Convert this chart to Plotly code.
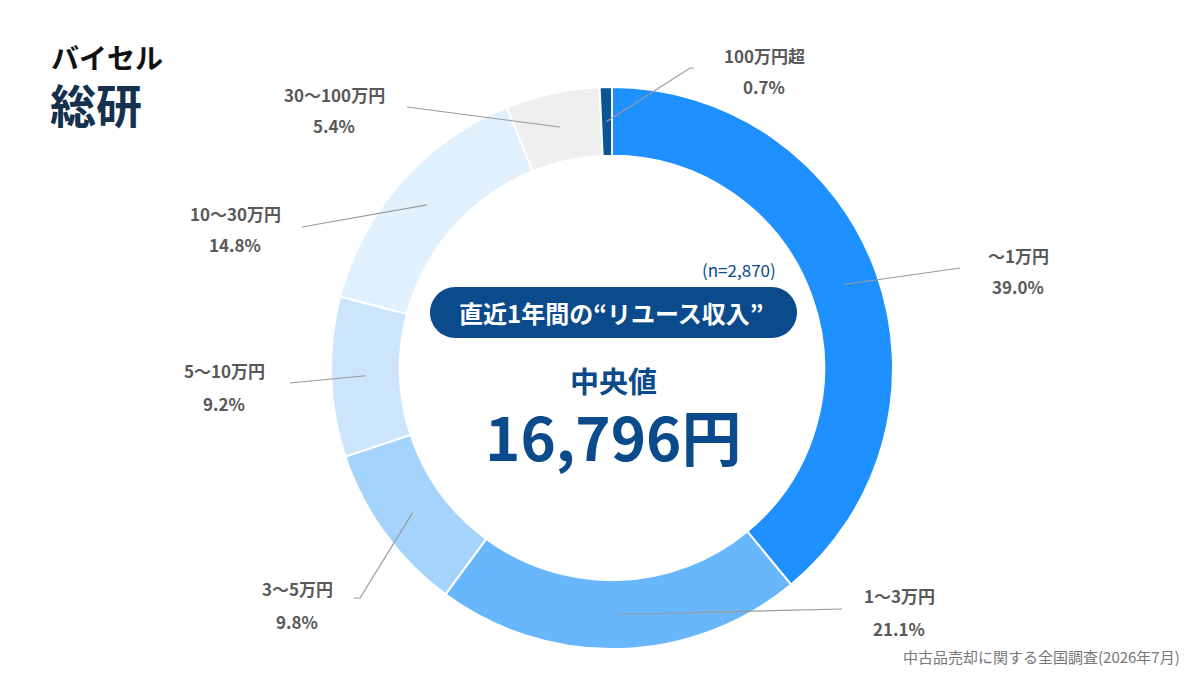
import math
import plotly.graph_objects as go

# ---------------- data ----------------
categories = ["〜1万円", "1〜3万円", "3〜5万円", "5〜10万円", "10〜30万円", "30〜100万円", "100万円超"]
shares = [39.0, 21.1, 9.8, 9.2, 14.8, 5.4, 0.7]
sample_size = "2,870"
median_label = "中央値"
median_value = "16,796円"
center_title = "直近1年間の“リユース収入”"
source_note = "中古品売却に関する全国調査(2026年7月)"

# ---------------- layout constants ----------------
W, H = 1200, 675
CX, CY, R = 612, 368, 281
HOLE = 0.755
R_MID = R * (1 + HOLE) / 2

colors = ["#1E90FF", "#68B6FB", "#A4D3FB", "#CCE5FC", "#E0F0FD", "#EEF0F0", "#0B5597"]
NAVY = "#0B4A8B"
LABEL_GRAY = "#595959"
FONT = "Noto Sans CJK JP"

# label placement: (line end x, line end y, tail x or None, label centre x, name y, pct y)
label_layout = [
    (960, 268, None, 1018, 255, 287),
    (842, 609, None, 899, 595, 628),
    (360, 598, 354, 297, 588, 621),
    (290, 383, None, 224, 370, 403),
    (302, 227, None, 235, 213, 245),
    (407, 107, None, 334, 95, 126),
    (690, 68, 694, 764, 55, 87),
]


def px(x):
    return x / W


def py(y):
    return 1 - y / H


fig = go.Figure(
    go.Pie(
        labels=categories,
        values=shares,
        hole=HOLE,
        sort=False,
        direction="clockwise",
        rotation=0,
        marker=dict(colors=colors, line=dict(color="white", width=2)),
        textinfo="none",
        hoverinfo="label+percent",
        showlegend=False,
        domain=dict(x=[px(CX - R), px(CX + R)], y=[py(CY + R), py(CY - R)]),
    )
)

shapes = []
annotations = []

total = sum(shares)
cum = 0.0
for cat, v, lay in zip(categories, shares, label_layout):
    theta = 2 * math.pi * (cum + v / 2) / total
    cum += v
    ax = CX + R_MID * math.sin(theta)
    ay = CY - R_MID * math.cos(theta)
    ex, ey, tail, lx, ny, pyy = lay
    path = f"M {px(ax)},{py(ay)} L {px(ex)},{py(ey)}"
    if tail is not None:
        path += f" L {px(tail)},{py(ey)}"
    shapes.append(dict(type="path", path=path, xref="paper", yref="paper",
                       line=dict(color="#9A9A9A", width=1.2), layer="above"))
    annotations.append(dict(x=px(lx), y=py(ny), xref="paper", yref="paper",
                            text=f"<b>{cat}</b>", showarrow=False,
                            xanchor="center", yanchor="middle",
                            font=dict(family=FONT, size=17, color=LABEL_GRAY)))
    annotations.append(dict(x=px(lx), y=py(pyy), xref="paper", yref="paper",
                            text=f"<b>{v:.1f}%</b>", showarrow=False,
                            xanchor="center", yanchor="middle",
                            font=dict(family=FONT, size=17, color=LABEL_GRAY)))

# centre pill (rounded rectangle)
x0, x1, y0, y1 = 430, 797, 287, 338
rr = (y1 - y0) / 2
pts = []
for i in range(0, 31):
    a = -math.pi / 2 + math.pi * i / 30
    pts.append((x1 - rr + rr * math.cos(a), (y0 + y1) / 2 + rr * math.sin(a)))
for i in range(0, 31):
    a = math.pi / 2 + math.pi * i / 30
    pts.append((x0 + rr + rr * math.cos(a), (y0 + y1) / 2 + rr * math.sin(a)))
pill = "M " + " L ".join(f"{px(a)},{py(b)}" for a, b in pts) + " Z"
shapes.append(dict(type="path", path=pill, xref="paper", yref="paper",
                   fillcolor=NAVY, line=dict(width=0), layer="above"))

extra = [
    dict(x=px(611), y=py(312), text=f"<b>{center_title}</b>",
         font=dict(family=FONT, size=24, color="white")),
    dict(x=px(778), y=py(269), xanchor="right", text=f"(n={sample_size})",
         font=dict(family=FONT, size=17, color=NAVY)),
    dict(x=px(613), y=py(380), text=f"<b>{median_label}</b>",
         font=dict(family=FONT, size=29, color=NAVY)),
    dict(x=px(613), y=py(434), text=f"<b>{median_value}</b>",
         font=dict(family=FONT, size=60, color=NAVY)),
    dict(x=px(1182), y=py(656), xanchor="right", text=source_note,
         font=dict(family=FONT, size=15, color="#777777")),
    dict(x=px(49), y=py(57), xanchor="left", text="<b>バイセル</b>",
         font=dict(family=FONT, size=28, color="#111111")),
    dict(x=px(48), y=py(103), xanchor="left", text="<b>総研</b>",
         font=dict(family=FONT, size=46, color="#16304F")),
]
for a in extra:
    a.setdefault("xref", "paper")
    a.setdefault("yref", "paper")
    a.setdefault("showarrow", False)
    a.setdefault("xanchor", "center")
    a.setdefault("yanchor", "middle")
annotations += extra

fig.update_layout(
    width=W,
    height=H,
    margin=dict(l=0, r=0, t=0, b=0),
    paper_bgcolor="white",
    plot_bgcolor="white",
    shapes=shapes,
    annotations=annotations,
    font=dict(family=FONT),
)

fig.write_html("out.html")
